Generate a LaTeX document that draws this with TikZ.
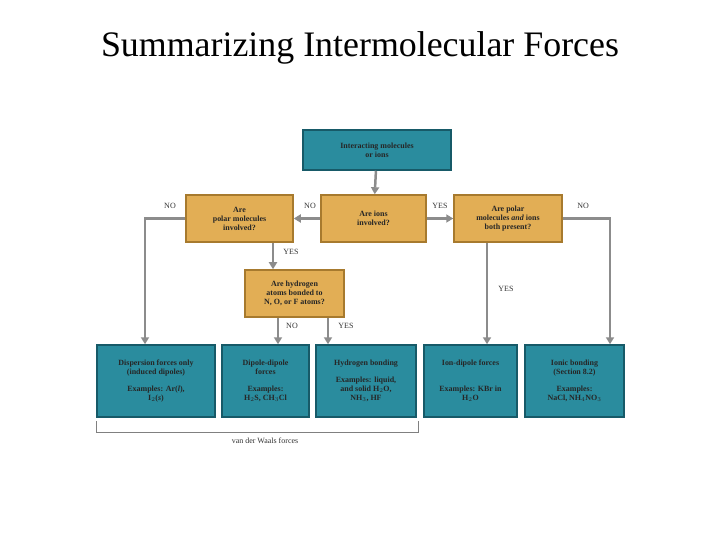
\documentclass[tikz,border=0pt]{standalone}
\usepackage{fontspec}
\setmainfont{Liberation Serif}
\usetikzlibrary{arrows.meta}
\definecolor{teal1}{HTML}{2A8C9E}
\definecolor{teal2}{HTML}{175A68}
\definecolor{gold1}{HTML}{E2AE55}
\definecolor{gold2}{HTML}{A77A2E}
\definecolor{conn}{HTML}{8C8C8C}
\begin{document}
\begin{tikzpicture}[x=1bp,y=-1bp,
  tbox/.style={draw=teal2,line width=1.5bp,fill=teal1,inner sep=0pt,align=center,font=\fontsize{8}{9}\selectfont\bfseries,text=black!85},
  gbox/.style={draw=gold2,line width=1.5bp,fill=gold1,inner sep=0pt,align=center,font=\fontsize{8}{9}\selectfont\bfseries,text=black!85},
  conn/.style={draw=conn,line width=2.5bp},
  arr/.style={conn,-{Triangle[length=7bp,width=8bp]}},
  lab/.style={font=\fontsize{8}{9}\selectfont,text=black!80}]
\useasboundingbox (0,0) rectangle (720,540);
\node at (360,48) {\fontsize{36}{40}\selectfont Summarizing Intermolecular Forces};
\node[tbox,minimum width=148bp,minimum height=40bp] (top) at (377,150) {Interacting molecules\\or ions};
\node[gbox,minimum width=107bp,minimum height=47bp] (polar) at (239.5,218.5) {Are\\polar molecules\\involved?};
\node[gbox,minimum width=105bp,minimum height=47bp] (ions) at (373.5,218.5) {Are ions\\involved?};
\node[gbox,minimum width=108bp,minimum height=47bp] (both) at (508,218.5) {Are polar\\molecules \emph{and} ions\\both present?};
\node[gbox,minimum width=99bp,minimum height=47bp] (hyd) at (294.5,293.5) {Are hydrogen\\atoms bonded to\\N, O, or F atoms?};
\node[tbox,minimum width=118bp,minimum height=72bp] (A) at (156,381) {Dispersion forces only\\(induced dipoles)\\[8bp]Examples: Ar(\emph{l}),\\I$_2$(\emph{s})};
\node[tbox,minimum width=87bp,minimum height=72bp] (B) at (265.5,381) {Dipole-dipole\\forces\\[8bp]Examples:\\H$_2$S, CH$_3$Cl};
\node[tbox,minimum width=100bp,minimum height=72bp] (C) at (366,381) {Hydrogen bonding\\[8bp]Examples: liquid,\\and solid H$_2$O,\\NH$_3$, HF};
\node[tbox,minimum width=93bp,minimum height=72bp] (D) at (470.5,381) {Ion-dipole forces\\[17bp]Examples: KBr in\\H$_2$O};
\node[tbox,minimum width=99bp,minimum height=72bp] (E) at (574.5,381) {Ionic bonding\\(Section 8.2)\\[8bp]Examples:\\NaCl, NH$_4$NO$_3$};
\draw[arr] (top) -- (ions);
\draw[arr] (ions) -- (polar);
\draw[arr] (ions) -- (both);
\draw[arr] (polar.west) -| (A.north -| 145,0);
\draw[arr] (polar.south -| 273,0) -- (hyd.north -| 273,0);
\draw[arr] (hyd.south -| 278,0) -- (B.north -| 278,0);
\draw[arr] (hyd.south -| 328,0) -- (C.north -| 328,0);
\draw[arr] (both.south -| 487,0) -- (D.north -| 487,0);
\draw[arr] (both.east) -| (E.north -| 610,0);
\node[lab] at (170,206) {NO};
\node[lab] at (310,206) {NO};
\node[lab] at (440,206) {YES};
\node[lab] at (583,206) {NO};
\node[lab] at (291,252) {YES};
\node[lab] at (292,326) {NO};
\node[lab] at (346,326) {YES};
\node[lab] at (506,289) {YES};
\coordinate (b1) at (96,421);
\coordinate (b2) at (418,421);
\draw[conn,line width=0.8bp,draw=black!50] (b1) -- ++(0,11) -- (418,432) -- (b2);
\node[lab] (vdw) at (265,441) {van der Waals forces};
\end{tikzpicture}
\end{document}
